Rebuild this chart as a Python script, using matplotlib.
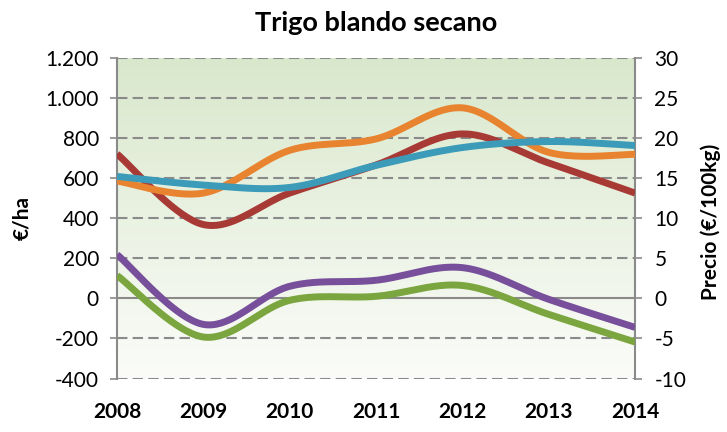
import numpy as np
import matplotlib.pyplot as plt
from matplotlib.colors import LinearSegmentedColormap

years = [2008, 2009, 2010, 2011, 2012, 2013, 2014]

# values in €/ha (right axis is the same scale divided by 40)
red = [720, 368, 525, 665, 820, 675, 525]
orange = [585, 525, 738, 795, 950, 728, 718]
blue = [608, 565, 553, 663, 752, 782, 762]
purple = [218, -130, 60, 90, 153, -5, -145]
green = [114, -193, -10, 10, 64, -80, -218]

left_ticks = [-400, -200, 0, 200, 400, 600, 800, 1000, 1200]
left_labels = ["-400", "-200", "0", "200", "400", "600", "800", "1.000", "1.200"]
right_ticks = [-10, -5, 0, 5, 10, 15, 20, 25, 30]

plt.rcParams['font.family'] = ['Lato', 'DejaVu Sans']


def smooth(xs, ys, n=40):
    # bezier smoothing in the way spreadsheet charts do it
    xs = np.asarray(xs, float)
    ys = np.asarray(ys, float)
    px = np.concatenate([[xs[0]], xs, [xs[-1]]])
    py = np.concatenate([[ys[0]], ys, [ys[-1]]])
    out_x, out_y = [], []
    t = np.linspace(0, 1, n)
    for i in range(1, len(px) - 2):
        p0 = np.array([px[i], py[i]])
        p3 = np.array([px[i + 1], py[i + 1]])
        c1 = p0 + (p3 - np.array([px[i - 1], py[i - 1]])) / 6
        c2 = p3 - (np.array([px[i + 2], py[i + 2]]) - p0) / 6
        b = ((1 - t) ** 3)[:, None] * p0 + (3 * (1 - t) ** 2 * t)[:, None] * c1 \
            + (3 * (1 - t) * t ** 2)[:, None] * c2 + (t ** 3)[:, None] * p3
        out_x.extend(b[:, 0])
        out_y.extend(b[:, 1])
    return out_x, out_y


fig = plt.figure(figsize=(7.27, 4.32), dpi=100)
ax = fig.add_axes([0.161, 0.1238, 0.7125, 0.7426])

# background gradient
cmap = LinearSegmentedColormap.from_list("bg", ["#fbfcf9", "#d9e8cc"])
grad = np.linspace(0, 1, 256).reshape(-1, 1)
ax.imshow(grad, aspect='auto', cmap=cmap, origin='lower',
          extent=[2008, 2014, -400, 1200], zorder=0)

for t in left_ticks:
    if t == 0:
        ax.axhline(t, color='#8a8a8a', lw=1.5, zorder=1)
    else:
        ax.axhline(t, color='#8a8a8a', lw=1.5, ls=(0, (5, 2.5)), zorder=1)

series = [(red, '#a83a36'), (orange, '#e8832f'), (blue, '#3b9bb8'),
          (green, '#7ba63f'), (purple, '#774f9b')]
for vals, col in series:
    sx, sy = smooth(years, vals)
    ax.plot(sx, sy, color=col, lw=5, solid_capstyle='butt', zorder=3)

ax.set_xlim(2008, 2014)
ax.set_ylim(-400, 1200)
ax.set_xticks(years)
ax.set_xticklabels([str(y) for y in years], fontsize=15, fontweight='bold')
ax.set_yticks(left_ticks)
ax.set_yticklabels(left_labels, fontsize=15)
ax.tick_params(axis='x', length=0, pad=17)
ax.tick_params(axis='y', length=5, color='#8a8a8a', width=1.2, pad=8)
for s in ['top', 'bottom']:
    ax.spines[s].set_visible(False)
for s in ['left', 'right']:
    ax.spines[s].set_color('#8a8a8a')
    ax.spines[s].set_linewidth(1.5)

ax2 = ax.twinx()
ax2.set_ylim(-10, 30)
ax2.set_yticks(right_ticks)
ax2.set_yticklabels([str(v) for v in right_ticks], fontsize=15)
ax2.tick_params(axis='y', length=5, color='#8a8a8a', width=1.2, pad=9)
for s in ['top', 'bottom', 'left', 'right']:
    ax2.spines[s].set_visible(False)

fig.text(22 / 727, 0.495, "€/ha", rotation=90, fontsize=15, fontweight='bold',
         ha='center', va='center')
fig.text(711 / 727, 0.487, "Precio (€/100kg)", rotation=90, fontsize=15,
         fontweight='bold', ha='center', va='center')

ax.set_title("Trigo blando secano", fontsize=19.5, fontweight='bold', pad=19)

fig.savefig("out.png", dpi=100)
